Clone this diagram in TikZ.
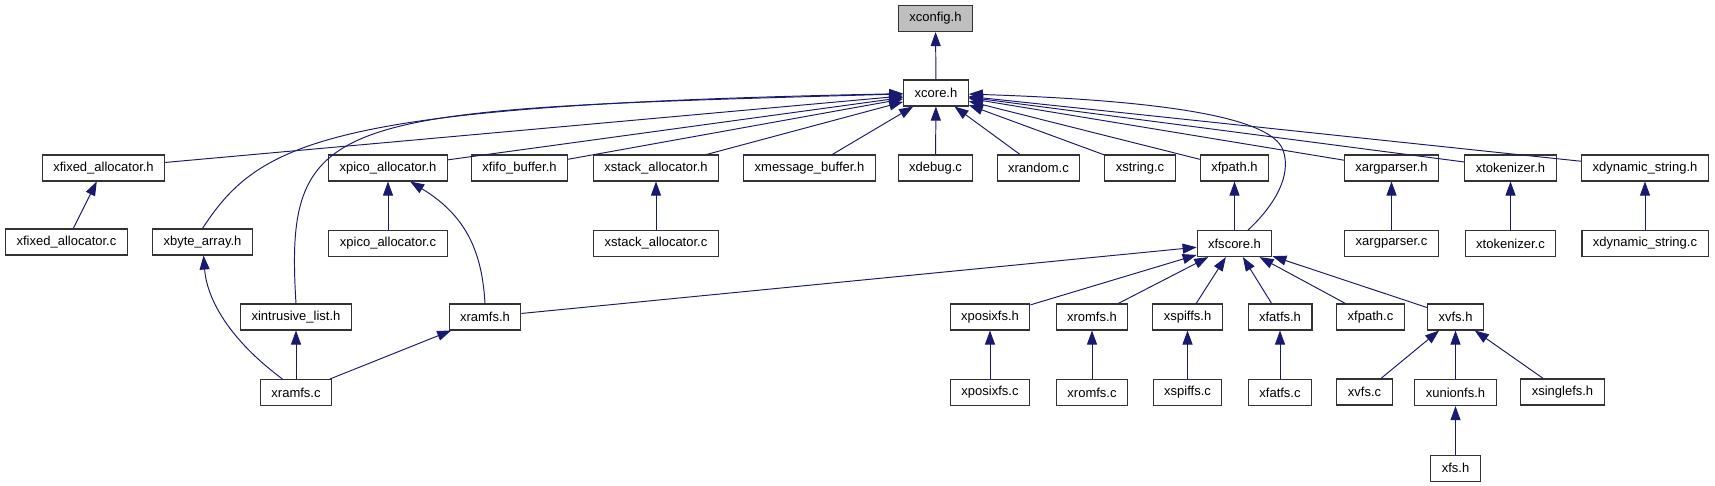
\documentclass[tikz,border=0pt]{standalone}
\usepackage{fontspec}
\setmainfont{Liberation Sans}
\usepackage{xcolor}
\usepackage{tikz}
\usetikzlibrary{positioning,arrows.meta}
\definecolor{midnight}{HTML}{191970}
\tikzset{
  fbox/.style={rectangle, draw=black!80, fill=white, line width=0.6pt,
    font=\fontsize{7.4}{9}\selectfont, inner xsep=2.2mm, inner ysep=0pt, minimum height=5.2mm},
  rootbox/.style={fbox, fill=black!25},
  dep/.style={-{Triangle[length=2.8mm, width=2mm]}, draw=midnight, line width=0.55pt},
}

\begin{document}
\begin{tikzpicture}[x=0.2mm, y=-0.2mm, node distance=9.7mm and 5mm]
\useasboundingbox (0,0) rectangle (1715,485);
% ---- top ----
\node[rootbox] (cfg) at (935.5,18.5) {xconfig.h};
\node[fbox] (core) at (936,93) {xcore.h};
\draw[dep] (core)--(cfg);
% ---- users of xcore.h ----
\node[fbox] (fixh) at (103.5,168) {xfixed\_allocator.h};
\node[fbox] (pich) at (388,168) {xpico\_allocator.h};
\node[fbox] (fifoh) at (519.5,168) {xfifo\_buffer.h};
\node[fbox] (stkh) at (656,168) {xstack\_allocator.h};
\node[fbox] (msgh) at (809.5,168) {xmessage\_buffer.h};
\node[fbox] (dbgc) at (935.5,168) {xdebug.c};
\node[fbox] (rndc) at (1038.5,168) {xrandom.c};
\node[fbox] (strc) at (1140,168) {xstring.c};
\node[fbox] (fph) at (1234.5,168) {xfpath.h};
\node[fbox] (argh) at (1391.5,168) {xargparser.h};
\node[fbox] (tokh) at (1510.5,168) {xtokenizer.h};
\node[fbox] (dynh) at (1645,168) {xdynamic\_string.h};
\draw[dep] (fixh)--(core); \draw[dep] (pich)--(core); \draw[dep] (fifoh)--(core);
\draw[dep] (stkh)--(core); \draw[dep] (msgh)--(core); \draw[dep] (dbgc)--(core);
\draw[dep] (rndc)--(core); \draw[dep] (strc)--(core); \draw[dep] (fph)--(core);
\draw[dep] (argh)--(core); \draw[dep] (tokh)--(core); \draw[dep] (dynh)--(core);
% ---- third row ----
\node[fbox] (fixc) at (66.5,242) {xfixed\_allocator.c};
\node[fbox] (bytah) at (202.5,242) {xbyte\_array.h};
\node[fbox, below=of pich] (picc) {xpico\_allocator.c};
\node[fbox, below=of stkh] (stkc) {xstack\_allocator.c};
\node[fbox, below=of fph] (fsch) {xfscore.h};
\node[fbox, below=of argh] (argc) {xargparser.c};
\node[fbox, below=of tokh] (tokc) {xtokenizer.c};
\node[fbox, below=of dynh] (dync) {xdynamic\_string.c};
\draw[dep] (fixc)--(fixh); \draw[dep] (picc)--(pich); \draw[dep] (stkc)--(stkh);
\draw[dep] (fsch)--(fph); \draw[dep] (argc)--(argh); \draw[dep] (tokc)--(tokh);
\draw[dep] (dync)--(dynh);
\draw[dep] (bytah.north) .. controls (260,140) and (330,105) .. (core);
\draw[dep] (fsch.45) .. controls (1275,205) and (1292,175) .. (1283,150)
  .. controls (1270,115) and (1150,100) .. (core);
% ---- file systems ----
\node[fbox] (ilsth) at (296,317) {xintrusive\_list.h};
\node[fbox] (ramh) at (485,317) {xramfs.h};
\node[fbox] (posh) at (990,317) {xposixfs.h};
\node[fbox] (romh) at (1092,317) {xromfs.h};
\node[fbox] (spih) at (1187.5,317) {xspiffs.h};
\node[fbox] (fath) at (1280,317) {xfatfs.h};
\node[fbox] (fpc) at (1370.5,317) {xfpath.c};
\node[fbox] (vfsh) at (1455.5,317) {xvfs.h};
\draw[dep] (ilsth.north) .. controls (284,110) and (330,110) .. (core);
\draw[dep] (ramh.north) .. controls (482,250) and (465,215) .. (pich);
\draw[dep] (ramh)--(fsch); \draw[dep] (posh)--(fsch); \draw[dep] (romh)--(fsch);
\draw[dep] (spih)--(fsch); \draw[dep] (fath)--(fsch); \draw[dep] (fpc)--(fsch);
\draw[dep] (vfsh)--(fsch);
% ---- sources ----
\node[fbox, below=of ilsth] (ramc) {xramfs.c};
\node[fbox, below=of posh] (posc) {xposixfs.c};
\node[fbox, below=of romh] (romc) {xromfs.c};
\node[fbox, below=of spih] (spic) {xspiffs.c};
\node[fbox, below=of fath] (fatc) {xfatfs.c};
\node[fbox] (vfsc) at (1364.5,392) {xvfs.c};
\node[fbox, below=of vfsh] (unih) {xunionfs.h};
\node[fbox] (sglh) at (1562.5,392) {xsinglefs.h};
\node[fbox, below=of unih] (fsh) {xfs.h};
\draw[dep] (ramc.135) .. controls (230,340) and (207,300) .. (bytah);
\draw[dep] (ramc)--(ilsth); \draw[dep] (ramc)--(ramh);
\draw[dep] (posc)--(posh); \draw[dep] (romc)--(romh); \draw[dep] (spic)--(spih);
\draw[dep] (fatc)--(fath);
\draw[dep] (vfsc)--(vfsh); \draw[dep] (unih)--(vfsh); \draw[dep] (sglh)--(vfsh);
\draw[dep] (fsh)--(unih);
\end{tikzpicture}
\end{document}
